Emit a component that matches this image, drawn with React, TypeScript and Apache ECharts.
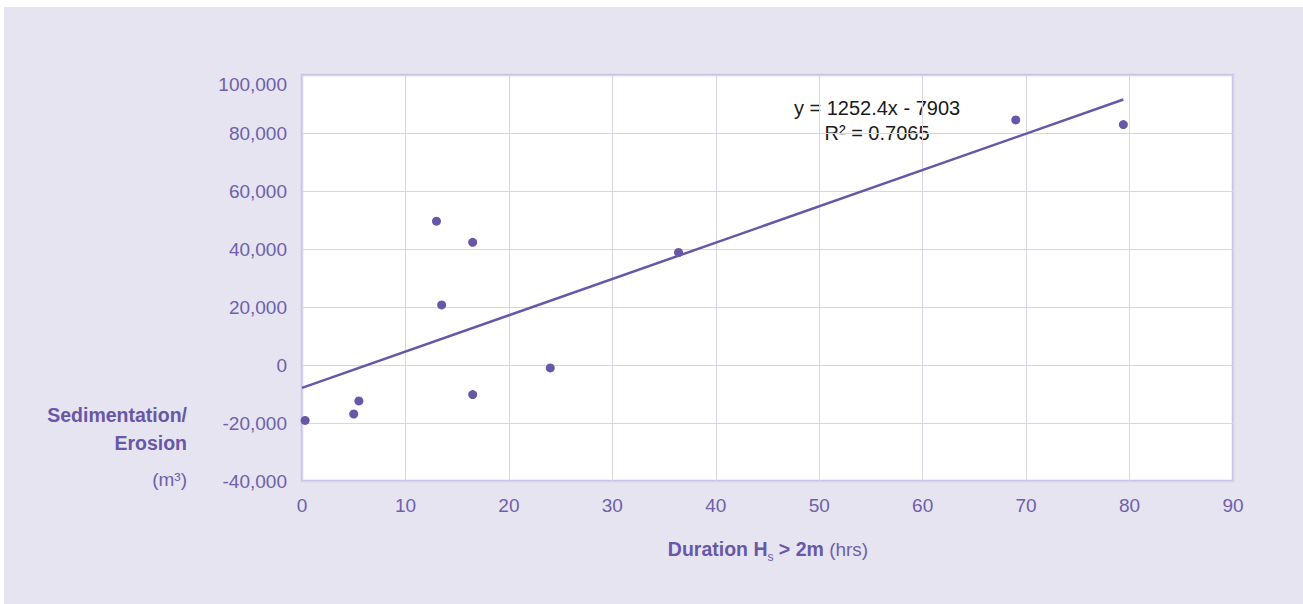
import React, { useEffect, useRef } from "react";
import * as echarts from "echarts";

const durationHrs = [0.3, 5.0, 5.5, 13.0, 16.5, 13.5, 24.0, 16.5, 36.4, 69.0, 79.4];
const sedimentation = [-19100, -16900, -12400, 49600, 42300, 20700, -1000, -10200, 38800, 84500, 82900];
const trendSlope = 1252.4;
const trendIntercept = -7903;
const xTicks = [0, 10, 20, 30, 40, 50, 60, 70, 80, 90];
const yTickMin = -40000;
const yTickMax = 100000;
const yTickStep = 20000;

const PURPLE = "#6857a6";
const LABEL = "#6e60aa";
const FONT = "'Liberation Sans', Arial, sans-serif";

export default function App() {
  const ref = useRef<HTMLDivElement>(null);
  useEffect(() => {
    if (!ref.current) return;
    const chart = echarts.init(ref.current, undefined, { renderer: "svg" });
    const xMaxData = Math.max(...durationHrs);
    const trend = [
      [0, trendIntercept],
      [xMaxData, trendSlope * xMaxData + trendIntercept],
    ];
    chart.setOption({
      animation: false,
      backgroundColor: "transparent",
      textStyle: { fontFamily: FONT },
      grid: {
        left: 302,
        right: 70,
        top: 75,
        bottom: 123,
        show: true,
        backgroundColor: "#ffffff",
        borderColor: "#c9c4e3",
        borderWidth: 2.5,
      },
      xAxis: {
        type: "value",
        min: xTicks[0],
        max: xTicks[xTicks.length - 1],
        interval: 10,
        axisLine: { show: false },
        axisTick: { show: false },
        splitLine: { show: true, lineStyle: { color: "#d8d4ec", width: 1 } },
        axisLabel: { color: LABEL, fontSize: 19, margin: 15, fontFamily: FONT },
      },
      yAxis: {
        type: "value",
        min: yTickMin,
        max: yTickMax,
        interval: yTickStep,
        axisLine: { show: false },
        axisTick: { show: false },
        splitLine: { show: true, lineStyle: { color: "#d8d4ec", width: 1 } },
        axisLabel: {
          color: LABEL,
          fontSize: 19,
          margin: 15,
          fontFamily: FONT,
          formatter: (v: number) => {
            const s = v.toLocaleString("en-US");
            return v === yTickMax ? "{top|" + s + "}" : s;
          },
          rich: {
            top: { color: LABEL, fontSize: 19, fontFamily: FONT, padding: [18, 0, 0, 0] },
          },
        },
      },
      series: [
        {
          type: "line",
          data: trend,
          symbol: "none",
          lineStyle: { color: PURPLE, width: 2.5 },
          z: 2,
        },
        {
          type: "scatter",
          data: durationHrs.map((x, i) => [x, sedimentation[i]]),
          symbol: "circle",
          symbolSize: 9,
          itemStyle: { color: PURPLE, opacity: 1 },
          z: 3,
        },
      ],
      graphic: [
        {
          type: "text",
          x: 187,
          y: 415,
          style: {
            text: "Sedimentation/",
            fill: PURPLE,
            font: "bold 19.5px " + FONT,
            align: "right",
            verticalAlign: "middle",
          },
        },
        {
          type: "text",
          x: 187,
          y: 443,
          style: {
            text: "Erosion",
            fill: PURPLE,
            font: "bold 19.5px " + FONT,
            align: "right",
            verticalAlign: "middle",
          },
        },
        {
          type: "text",
          x: 187,
          y: 479,
          style: {
            text: "(m³)",
            fill: LABEL,
            font: "19px " + FONT,
            align: "right",
            verticalAlign: "middle",
          },
        },
        {
          type: "text",
          x: 877,
          y: 108,
          style: {
            text: "y = 1252.4x - 7903",
            fill: "#1a1a1a",
            font: "20px " + FONT,
            align: "center",
            verticalAlign: "middle",
          },
        },
        {
          type: "text",
          x: 877,
          y: 133,
          style: {
            text: "R² = 0.7065",
            fill: "#1a1a1a",
            font: "20px " + FONT,
            align: "center",
            verticalAlign: "middle",
          },
        },
        {
          type: "text",
          x: 768,
          y: 549,
          style: {
            text: "{b|Duration H}{s|s}{b| > 2m}{n| (hrs)}",
            align: "center",
            verticalAlign: "middle",
            rich: {
              b: { fill: PURPLE, fontWeight: "bold", fontSize: 19.5, fontFamily: FONT, lineHeight: 28 },
              s: { fill: PURPLE, fontSize: 12, fontFamily: FONT, lineHeight: 12, verticalAlign: "bottom" },
              n: { fill: LABEL, fontSize: 19, fontFamily: FONT, lineHeight: 28 },
            },
          },
        },
      ],
    });
    return () => chart.dispose();
  }, []);
  return (
    <div style={{ position: "fixed", left: 0, top: 0, width: 1303, height: 604, background: "#ffffff" }}>
      <div style={{ position: "absolute", left: 4, top: 7, right: 0, bottom: 0, background: "#e6e4f1" }} />
      <div ref={ref} style={{ position: "absolute", left: 0, top: 0, width: 1303, height: 604 }} />
    </div>
  );
}
